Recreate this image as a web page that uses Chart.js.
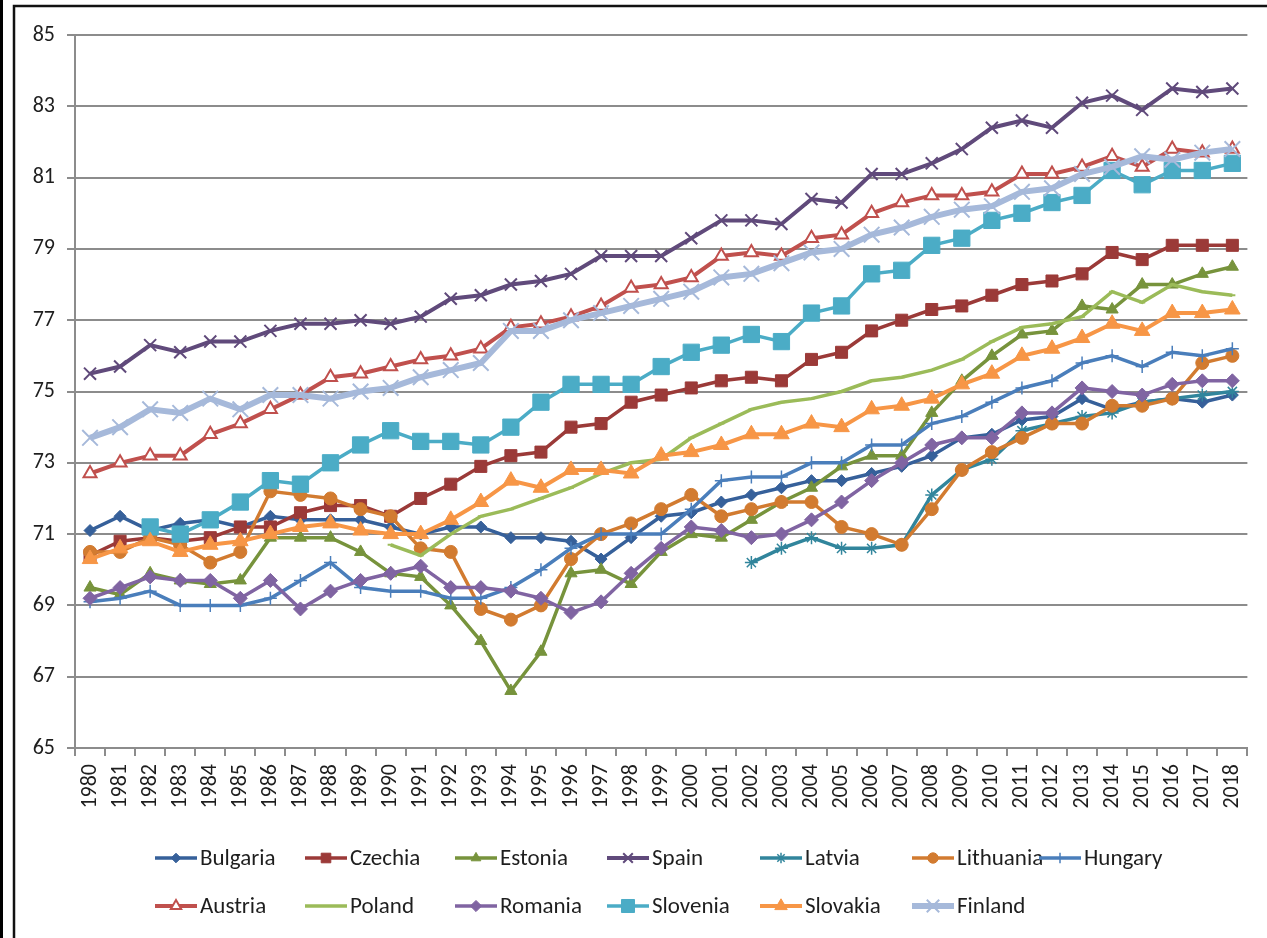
<!DOCTYPE html>
<html>
<head>
<meta charset="utf-8">
<script src="https://cdn.jsdelivr.net/npm/chart.js@4.4.1/dist/chart.umd.min.js"></script>
<style>
  html, body { margin: 0; padding: 0; background: #fff; }
  #wrap { position: relative; width: 1267px; height: 938px; }
</style>
</head>
<body>
<div id="wrap"><canvas id="c" width="1267" height="938"></canvas></div>
<script>
const years = ['1980','1981','1982','1983','1984','1985','1986','1987','1988','1989','1990','1991','1992','1993','1994','1995','1996','1997','1998','1999','2000','2001','2002','2003','2004','2005','2006','2007','2008','2009','2010','2011','2012','2013','2014','2015','2016','2017','2018'];
const yTicks = [65, 67, 69, 71, 73, 75, 77, 79, 81, 83, 85];

const bulgaria = [71.1,71.5,71.1,71.3,71.4,71.2,71.5,71.4,71.4,71.4,71.2,71.0,71.2,71.2,70.9,70.9,70.8,70.3,70.9,71.5,71.6,71.9,72.1,72.3,72.5,72.5,72.7,72.9,73.2,73.7,73.8,74.2,74.3,74.8,74.5,74.7,74.8,74.7,74.9];
const czechia = [70.4,70.8,70.9,70.8,70.9,71.2,71.2,71.6,71.8,71.8,71.5,72.0,72.4,72.9,73.2,73.3,74.0,74.1,74.7,74.9,75.1,75.3,75.4,75.3,75.9,76.1,76.7,77.0,77.3,77.4,77.7,78.0,78.1,78.3,78.9,78.7,79.1,79.1,79.1];
const estonia = [69.5,69.3,69.9,69.7,69.6,69.7,70.9,70.9,70.9,70.5,69.9,69.8,69.0,68.0,66.6,67.7,69.9,70.0,69.6,70.5,71.0,70.9,71.4,71.9,72.3,72.9,73.2,73.2,74.4,75.3,76.0,76.6,76.7,77.4,77.3,78.0,78.0,78.3,78.5];
const spain = [75.5,75.7,76.3,76.1,76.4,76.4,76.7,76.9,76.9,77.0,76.9,77.1,77.6,77.7,78.0,78.1,78.3,78.8,78.8,78.8,79.3,79.8,79.8,79.7,80.4,80.3,81.1,81.1,81.4,81.8,82.4,82.6,82.4,83.1,83.3,82.9,83.5,83.4,83.5];
const latvia = [null,null,null,null,null,null,null,null,null,null,null,null,null,null,null,null,null,null,null,null,null,null,70.2,70.6,70.9,70.6,70.6,70.7,72.1,72.8,73.1,73.9,74.1,74.3,74.4,74.7,74.8,74.9,75.0];
const lithuania = [70.5,70.5,70.9,70.7,70.2,70.5,72.2,72.1,72.0,71.7,71.5,70.6,70.5,68.9,68.6,69.0,70.3,71.0,71.3,71.7,72.1,71.5,71.7,71.9,71.9,71.2,71.0,70.7,71.7,72.8,73.3,73.7,74.1,74.1,74.6,74.6,74.8,75.8,76.0];
const hungary = [69.1,69.2,69.4,69.0,69.0,69.0,69.2,69.7,70.2,69.5,69.4,69.4,69.2,69.2,69.5,70.0,70.6,71.0,71.0,71.0,71.7,72.5,72.6,72.6,73.0,73.0,73.5,73.5,74.1,74.3,74.7,75.1,75.3,75.8,76.0,75.7,76.1,76.0,76.2];
const austria = [72.7,73.0,73.2,73.2,73.8,74.1,74.5,74.9,75.4,75.5,75.7,75.9,76.0,76.2,76.8,76.9,77.1,77.4,77.9,78.0,78.2,78.8,78.9,78.8,79.3,79.4,80.0,80.3,80.5,80.5,80.6,81.1,81.1,81.3,81.6,81.3,81.8,81.7,81.8];
const poland = [null,null,null,null,null,null,null,null,null,null,70.7,70.4,71.0,71.5,71.7,72.0,72.3,72.7,73.0,73.1,73.7,74.1,74.5,74.7,74.8,75.0,75.3,75.4,75.6,75.9,76.4,76.8,76.9,77.1,77.8,77.5,78.0,77.8,77.7];
const romania = [69.2,69.5,69.8,69.7,69.7,69.2,69.7,68.9,69.4,69.7,69.9,70.1,69.5,69.5,69.4,69.2,68.8,69.1,69.9,70.6,71.2,71.1,70.9,71.0,71.4,71.9,72.5,73.0,73.5,73.7,73.7,74.4,74.4,75.1,75.0,74.9,75.2,75.3,75.3];
const slovenia = [null,null,71.2,71.0,71.4,71.9,72.5,72.4,73.0,73.5,73.9,73.6,73.6,73.5,74.0,74.7,75.2,75.2,75.2,75.7,76.1,76.3,76.6,76.4,77.2,77.4,78.3,78.4,79.1,79.3,79.8,80.0,80.3,80.5,81.2,80.8,81.2,81.2,81.4];
const slovakia = [70.3,70.6,70.8,70.5,70.7,70.8,71.0,71.2,71.3,71.1,71.0,71.0,71.4,71.9,72.5,72.3,72.8,72.8,72.7,73.2,73.3,73.5,73.8,73.8,74.1,74.0,74.5,74.6,74.8,75.2,75.5,76.0,76.2,76.5,76.9,76.7,77.2,77.2,77.3];
const finland = [73.7,74.0,74.5,74.4,74.8,74.5,74.9,74.9,74.8,75.0,75.1,75.4,75.6,75.8,76.7,76.7,77.0,77.2,77.4,77.6,77.8,78.2,78.3,78.6,78.9,79.0,79.4,79.6,79.9,80.1,80.2,80.6,80.7,81.1,81.3,81.6,81.5,81.7,81.8];

const seriesNames = ['Bulgaria','Czechia','Estonia','Spain','Latvia','Lithuania','Hungary','Austria','Poland','Romania','Slovenia','Slovakia','Finland'];
const seriesData = [bulgaria, czechia, estonia, spain, latvia, lithuania, hungary, austria, poland, romania, slovenia, slovakia, finland];

// styles: [lineColor, pointStyle, radius, pointFill, pointBorder, pointBorderWidth, lineWidth]
const styles = [
  ['#36609A', 'rectRot', 6,   '#36609A', '#36609A', 1, 3.5],
  ['#9B3A38', 'rect',    8.5, '#9B3A38', '#9B3A38', 1, 3.5],
  ['#77933C', 'triangle',7,   '#77933C', '#77933C', 1, 3.5],
  ['#604A7B', 'crossRot',8.5, '#604A7B', '#604A7B', 2, 4],
  ['#31859C', 'star',    6.5, '#31859C', '#31859C', 1.5, 3.5],
  ['#D27B30', 'circle',  6.5, '#D27B30', '#D27B30', 1, 3.5],
  ['#4A7EBB', 'cross',   6.5, '#4A7EBB', '#4A7EBB', 1.5, 3.5],
  ['#C0504D', 'triangle',7.5, '#FFFFFF', '#C0504D', 2, 4],
  ['#9BBB59', 'line',    3,   '#9BBB59', '#9BBB59', 2, 3.5],
  ['#8064A2', 'rectRot', 7,   '#8064A2', '#8064A2', 1, 3.5],
  ['#4BACC6', 'rect',    11.5,'#4BACC6', '#4BACC6', 1, 3.5],
  ['#F79646', 'triangle',9,   '#F79646', '#F79646', 1, 4],
  ['#A6B9DA', 'crossRot',11,  '#A6B9DA', '#A6B9DA', 2, 6]
];

const FONT = 'Carlito, Lato, "Liberation Sans", sans-serif';
const TEXT = '#1E1E1E';
const GRID = '#8C8C8C';

const datasets = seriesNames.map((name, i) => {
  const s = styles[i];
  return {
    label: name,
    data: seriesData[i],
    borderColor: s[0],
    backgroundColor: s[0],
    borderWidth: s[6],
    pointStyle: s[1],
    pointRadius: s[2],
    pointHoverRadius: s[2],
    pointBackgroundColor: s[3],
    pointBorderColor: s[4],
    pointBorderWidth: s[5],
    tension: 0,
    fill: false,
    spanGaps: false,
    order: seriesNames.length - i
  };
});

const frame = {
  id: 'frame',
  beforeDraw(chart) {
    const ctx = chart.ctx;
    ctx.save();
    ctx.fillStyle = '#fff';
    ctx.fillRect(0, 0, chart.width, chart.height);
    ctx.fillStyle = '#000';
    ctx.fillRect(0, 0, 3, chart.height);
    ctx.strokeStyle = '#111';
    ctx.lineWidth = 2.5;
    ctx.beginPath();
    ctx.moveTo(14, chart.height);
    ctx.lineTo(14, 6);
    ctx.lineTo(chart.width, 6);
    ctx.stroke();
    ctx.restore();
  }
};

const xlLegend = {
  id: 'xlLegend',
  afterDraw(chart) {
    const ctx = chart.ctx;
    const rows = [[0,1,2,3,4,5,6],[7,8,9,10,11,12]];
    const xs = [[155,305,455,607,760,912,1039],[155,305,455,607,760,912]];
    const ys = [858, 906];
    ctx.save();
    rows.forEach((row, r) => {
      row.forEach((idx, c) => {
        const ds = chart.data.datasets[idx];
        const x = xs[r][c], y = ys[r];
        ctx.strokeStyle = ds.borderColor;
        ctx.lineWidth = Math.max(3.5, ds.borderWidth);
        ctx.beginPath();
        ctx.moveTo(x, y);
        ctx.lineTo(x + 42, y);
        ctx.stroke();
        ctx.fillStyle = ds.pointBackgroundColor;
        ctx.strokeStyle = ds.pointBorderColor;
        ctx.lineWidth = ds.pointBorderWidth;
        Chart.helpers.drawPoint(ctx, {
          pointStyle: ds.pointStyle,
          radius: ds.pointRadius * 0.8,
          rotation: 0,
          borderWidth: ds.pointBorderWidth
        }, x + 21, y);
        ctx.fillStyle = TEXT;
        ctx.font = '23px ' + FONT;
        ctx.textBaseline = 'middle';
        ctx.textAlign = 'left';
        ctx.fillText(ds.label, x + 45, y + 1);
      });
    });
    ctx.restore();
  }
};

new Chart(document.getElementById('c'), {
  type: 'line',
  data: { labels: years, datasets },
  plugins: [frame, xlLegend],
  options: {
    responsive: false,
    devicePixelRatio: 1,
    animation: false,
    layout: { padding: { left: 14, top: 35, right: 19, bottom: 0 } },
    plugins: {
      legend: { display: false },
      tooltip: { enabled: false },
      title: { display: false }
    },
    scales: {
      x: {
        type: 'category',
        offset: true,
        grid: { offset: true, drawOnChartArea: false, drawTicks: true, tickLength: 8, color: GRID, lineWidth: 2 },
        border: { color: GRID, width: 2 },
        ticks: { autoSkip: false, minRotation: 90, maxRotation: 90, padding: 8, color: TEXT, font: { family: FONT, size: 22 } },
        afterFit(s) { s.height = 190; }
      },
      y: {
        min: 65,
        max: 85,
        afterBuildTicks(s) { s.ticks = yTicks.map(v => ({ value: v })); },
        grid: { color: GRID, lineWidth: 2, drawTicks: true, tickLength: 8 },
        border: { color: GRID, width: 2 },
        ticks: { padding: 12, color: TEXT, font: { family: FONT, size: 22 } },
        afterFit(s) { s.width = 61; }
      }
    }
  }
});
</script>
</body>
</html>
